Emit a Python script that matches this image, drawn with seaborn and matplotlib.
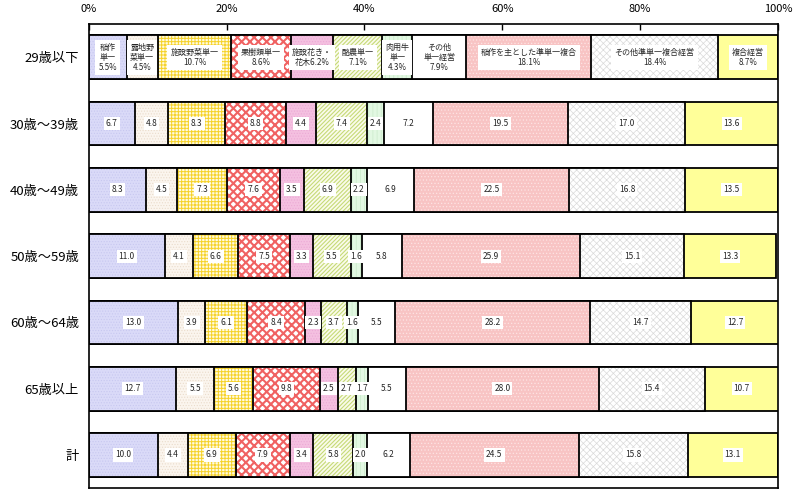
import pandas as pd
import seaborn as sns
import matplotlib.pyplot as plt

ages = ['29歳以下', '30歳～39歳', '40歳～49歳', '50歳～59歳', '60歳～64歳', '65歳以上', '計']
categories = ['稲作単一', '露地野菜単一', '施設野菜単一', '果樹類単一', '施設花き・花木単一',
              '酪農単一', '肉用牛単一', 'その他単一経営', '稲作を主とした準単一複合',
              'その他準単一複合経営', '複合経営']
# captions shown in the first row (category name + share)
captions = ['稲作\n単一\n{}%', '露地野\n菜単一\n{}%', '施設野菜単一\n{}%', '果樹類単一\n{}%',
            '施設花き・\n花木{}%', '酪農単一\n{}%', '肉用牛\n単一\n{}%', 'その他\n単一経営\n{}%',
            '稲作を主とした準単一複合\n{}%', 'その他準単一複合経営\n{}%', '複合経営\n{}%']

# shares (%) per age group, in category order
u29 = [5.5, 4.5, 10.7, 8.6, 6.2, 7.1, 4.3, 7.9, 18.1, 18.4, 8.7]
a30 = [6.7, 4.8, 8.3, 8.8, 4.4, 7.4, 2.4, 7.2, 19.5, 17.0, 13.6]
a40 = [8.3, 4.5, 7.3, 7.6, 3.5, 6.9, 2.2, 6.9, 22.5, 16.8, 13.5]
a50 = [11.0, 4.1, 6.6, 7.5, 3.3, 5.5, 1.6, 5.8, 25.9, 15.1, 13.3]
a60 = [13.0, 3.9, 6.1, 8.4, 2.3, 3.7, 1.6, 5.5, 28.2, 14.7, 12.7]
o65 = [12.7, 5.5, 5.6, 9.8, 2.5, 2.7, 1.7, 5.5, 28.0, 15.4, 10.7]
total = [10.0, 4.4, 6.9, 7.9, 3.4, 5.8, 2.0, 6.2, 24.5, 15.8, 13.1]

# face colour, hatch, hatch colour, hatch line width for each category
styles = [
    ('#dadaf8', '......', '#c8c8f0', 0.5),
    ('#fbf5ee', '......', '#eadccc', 0.5),
    ('#fffbe0', '+++++', '#f6d22a', 0.7),
    ('white', 'xxxx', '#f06262', 1.5),
    ('#f4c0e0', '......', '#ecaad6', 0.5),
    ('#fafbea', '////////', '#c6da78', 0.8),
    ('#e2f8e2', '||||', '#cdeccd', 0.6),
    ('white', '', 'white', 0.5),
    ('#f8c4c4', '.....', '#fde4e4', 0.5),
    ('white', 'xxxxx', '#dadada', 0.5),
    ('#ffff99', '', '#ffff99', 0.5),
]

df = pd.DataFrame([u29, a30, a40, a50, a60, o65, total], index=ages, columns=categories)
cum = df.cumsum(axis=1)

sns.set_style('white')
plt.rcParams['font.family'] = ['Noto Sans CJK JP', 'DejaVu Sans']

fig, ax = plt.subplots(figsize=(8, 4.93), dpi=100)
fig.subplots_adjust(left=0.111, right=0.9725, top=0.951, bottom=0.010)

# stacked bars: draw running totals from the right-most segment down to the first
for k in reversed(range(len(categories))):
    d = pd.DataFrame({'age': ages, 'x': cum[categories[k]].values})
    face, hatch, hcol, hlw = styles[k]
    with plt.rc_context({'hatch.linewidth': hlw}):
        sns.barplot(data=d, x='x', y='age', orient='h', order=ages, color=face, saturation=1,
                    hatch=hatch, edgecolor=hcol, linewidth=0, width=0.66, errorbar=None, ax=ax)
    sns.barplot(data=d, x='x', y='age', orient='h', order=ages, fill=False, color='black',
                linewidth=1.3, width=0.66, errorbar=None, ax=ax)

# labels in white boxes
for i, age in enumerate(ages):
    for k, cat in enumerate(categories):
        v = df.loc[age, cat]
        xc = cum.loc[age, cat] - v / 2
        if i == 0:
            ax.text(xc, i, captions[k].format(v), ha='center', va='center', fontsize=5.8,
                    linespacing=1.15,
                    bbox=dict(boxstyle='square,pad=0.4', fc='white', ec='none'))
        else:
            ax.text(xc, i, f'{v:.1f}', ha='center', va='center', fontsize=6,
                    bbox=dict(boxstyle='square,pad=0.25', fc='white', ec='none'))

ax.set_xlim(0, 100)
ax.set_xticks(range(0, 101, 20))
ax.set_xticklabels([f'{t}%' for t in range(0, 101, 20)])
ax.xaxis.tick_top()
ax.tick_params(axis='x', direction='in', length=4, width=1, pad=7, labelsize=8, colors='black')
ax.tick_params(axis='y', length=0, pad=7, labelsize=9.5, colors='black')
ax.set_xlabel('')
ax.set_ylabel('')
for s in ax.spines.values():
    s.set_visible(True)
    s.set_color('black')
    s.set_linewidth(1.2)

fig.savefig('out.png', dpi=100)
